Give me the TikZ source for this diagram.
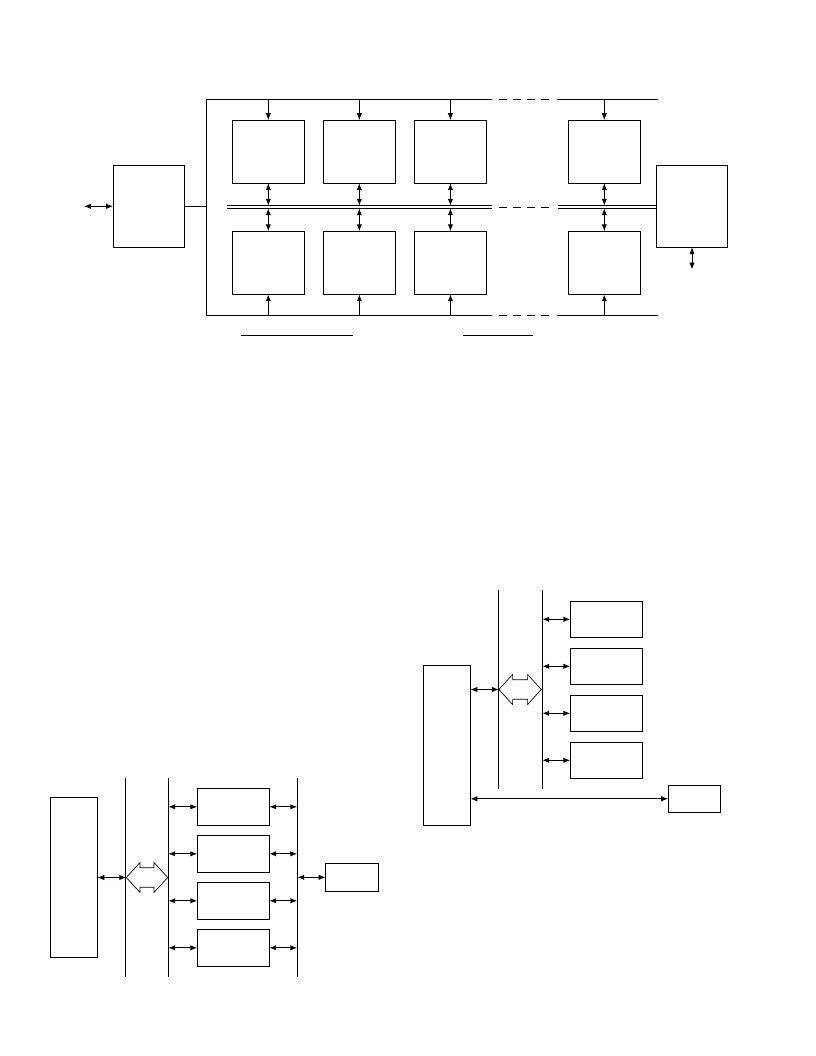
\documentclass[tikz,border=0pt]{standalone}
\usepackage{xcolor}
\usepackage{tikz}
\usetikzlibrary{arrows.meta, positioning, calc}
\definecolor{mydark}{RGB}{0,0,0}
\tikzset{
  block/.style={rectangle, draw=mydark, line width=0.7pt, inner sep=0pt, outer sep=0pt},
  cellblock/.style={block, minimum width=54.4pt, minimum height=47.3pt},
  sideblock/.style={block, minimum width=53.3pt, minimum height=61.5pt},
  hostblock/.style={block, minimum width=35.3pt, minimum height=120pt},
  slotblock/.style={block, minimum width=54pt, minimum height=27.5pt},
  portblock/.style={block, minimum width=39.5pt, minimum height=20.7pt},
  bigarrow/.style={draw=mydark, line width=0.5pt, line join=miter},
  arrow/.style={-{Latex[length=5.2pt,width=4pt]}, line width=0.7pt, color=mydark},
  biarrow/.style={{Latex[length=5.2pt,width=4pt]}-{Latex[length=5.2pt,width=4pt]},
    line width=0.7pt, color=mydark},
  line/.style={line width=0.7pt, color=mydark},
  gapline/.style={line, dash pattern=on 5.6pt off 4.9pt}
}

\begin{document}
\begin{tikzpicture}[x=0.75pt, y=-0.75pt]
  \useasboundingbox (0,0) rectangle (816,1056);

  % top: array of cells between two buses
  \node[sideblock] (ctrl) at (148.7,206.3) {};
  \node[sideblock] (ioblk) at (692,206.3) {};
  \node[cellblock] (t1) at (268.3,151.7) {};
  \node[cellblock, right=13.9pt of t1] (t2) {};
  \node[cellblock, right=13.9pt of t2] (t3) {};
  \node[cellblock] (t4) at (604.3,151.7) {};
  \foreach \c in {1,...,4}
    \node[cellblock, below=36pt of t\c] (b\c) {};

  \coordinate (tbus) at (206,99.5);
  \coordinate (bbus) at (206,315);
  \coordinate (mbusU) at (226.7,205.7);
  \coordinate (mbusD) at (226.7,208.3);
  \coordinate (ioext) at (692,269.5);
  \coordinate (ctrlext) at (84,206.3);

  \draw[line] (tbus) -- (bbus);
  \foreach \y in {99.5,315} {
    \draw[line] (206,\y) -- (491.7,\y);
    \draw[gapline] (499.3,\y) -- (550,\y);
    \draw[line] (556.7,\y) -- (658,\y);
  }
  \foreach \y in {205.7,208.3} {
    \draw[line] (226.7,\y) -- (491.7,\y);
    \draw[line] (558.3,\y) -- (ioblk.west |- 0,\y);
  }
  \draw[gapline] (499.3,207) -- (550,207);

  \draw[line] (ctrl.east) -- (ctrl.east -| tbus);
  \draw[biarrow] (ctrlext) -- (ctrl.west);
  \draw[biarrow] (ioblk.south) -- (ioext);
  \foreach \c in {1,...,4} {
    \draw[arrow] (t\c.north |- tbus) -- (t\c.north);
    \draw[arrow] (b\c.south |- bbus) -- (b\c.south);
    \draw[biarrow] (t\c.south) -- (t\c.south |- mbusU);
    \draw[biarrow] (b\c.north) -- (b\c.north |- mbusD);
  }
  \draw[line] (241,335) -- (353,335);
  \draw[line] (463,335) -- (533,335);

  % bottom left
  \node[hostblock] (hostA) at (73.8,877.3) {};
  \node[slotblock] (sa1) at (233.3,806.8) {};
  \node[slotblock, below=7.75pt of sa1] (sa2) {};
  \node[slotblock, below=7.75pt of sa2] (sa3) {};
  \node[slotblock, below=7.75pt of sa3] (sa4) {};
  \node[portblock] (pa) at (352,877.3) {};
  \foreach \x/\n in {125.7/1,168.3/2,297.3/3} {
    \coordinate (la\n) at (\x,778);
    \draw[line] (la\n) -- (\x,976.7);
  }
  \coordinate (busA) at (126.3,877.5);
  \draw[bigarrow] (busA) -- ++(13.7,-15) -- ++(0,5.2) -- ++(14,0) -- ++(0,-5.2)
    -- ++(13.7,15) -- ++(-13.7,15) -- ++(0,-5.2) -- ++(-14,0) -- ++(0,5.2) -- cycle;
  \draw[biarrow] (hostA.east |- busA) -- (busA);
  \foreach \s in {sa1,sa2,sa3,sa4} {
    \draw[biarrow] (\s.west -| la2) -- (\s.west);
    \draw[biarrow] (\s.east) -- (\s.east -| la3);
  }
  \draw[biarrow] (pa.west -| la3) -- (pa.west);

  % bottom right
  \node[hostblock] (hostB) at (446.8,745.5) {};
  \node[slotblock] (sb1) at (606.3,619.3) {};
  \node[slotblock, below=7.75pt of sb1] (sb2) {};
  \node[slotblock, below=7.75pt of sb2] (sb3) {};
  \node[slotblock, below=7.75pt of sb3] (sb4) {};
  \node[portblock] (pb) at (694.5,798.8) {};
  \foreach \x/\n in {498.3/1,542.3/2} {
    \coordinate (lb\n) at (\x,590);
    \draw[line] (lb\n) -- (\x,789);
  }
  \coordinate (busB) at (498.9,689.5);
  \draw[bigarrow] (busB) -- ++(13.7,-15) -- ++(0,5.2) -- ++(15,0) -- ++(0,-5.2)
    -- ++(13.7,15) -- ++(-13.7,15) -- ++(0,-5.2) -- ++(-15,0) -- ++(0,5.2) -- cycle;
  \draw[biarrow] (hostB.east |- busB) -- (busB);
  \foreach \s in {sb1,sb2,sb3,sb4}
    \draw[biarrow] (\s.west -| lb2) -- (\s.west);
  \draw[biarrow] (hostB.east |- pb.west) -- (pb.west);
\end{tikzpicture}
\end{document}
